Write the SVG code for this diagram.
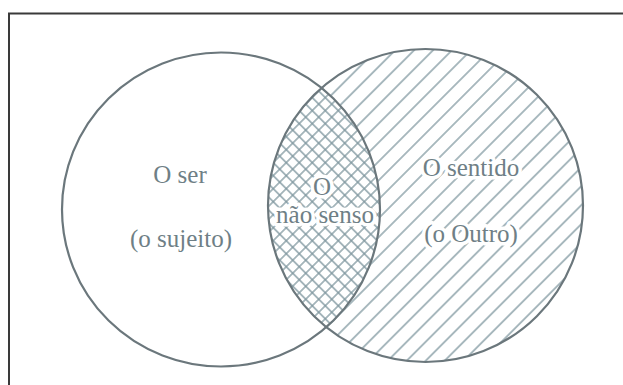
<svg xmlns="http://www.w3.org/2000/svg" width="623" height="385" viewBox="0 0 623 385">
<style>
.outline{fill:none;stroke:#6b777c;stroke-width:2.2}
.lbl{font-family:"Liberation Serif",serif;font-size:25px;fill:#6f7f86;text-anchor:middle;stroke:#fff;stroke-width:7;stroke-linejoin:round;paint-order:stroke}
.hl{stroke:#7d959d;stroke-width:1.3}
</style>
<defs>
<pattern id="hatch" patternUnits="userSpaceOnUse" width="13.4" height="13.4" patternTransform="rotate(45)">
<line class="hl" x1="6.7" y1="-1" x2="6.7" y2="14.4"/>
</pattern>
<pattern id="cross" patternUnits="userSpaceOnUse" width="9.2" height="9.2" patternTransform="rotate(45)">
<line class="hl" x1="4.6" y1="-1" x2="4.6" y2="10.2"/>
<line class="hl" x1="-1" y1="4.6" x2="10.2" y2="4.6"/>
</pattern>
<clipPath id="clipRight"><ellipse cx="425.5" cy="205.5" rx="157.5" ry="156.5"/></clipPath>
</defs>
<rect width="623" height="385" fill="#fff"/>
<path d="M9,386 V13.5 H624" fill="none" stroke="#3a3a3a" stroke-width="2"/>
<g id="right-circle">
<ellipse cx="425.5" cy="205.5" rx="157.5" ry="156.5" fill="url(#hatch)"/>
</g>
<g id="intersection" clip-path="url(#clipRight)">
<ellipse cx="221" cy="209.5" rx="159" ry="157" fill="#fff"/>
<ellipse cx="221" cy="209.5" rx="159" ry="157" fill="url(#cross)"/>
</g>
<g id="outlines">
<ellipse class="outline" cx="221" cy="209.5" rx="159" ry="157"/>
<ellipse class="outline" cx="425.5" cy="205.5" rx="157.5" ry="156.5"/>
</g>
<g id="node-ser">
<text class="lbl" x="180" y="183">O ser</text>
<text class="lbl" x="181" y="247">(o sujeito)</text>
</g>
<g id="node-naosenso">
<text class="lbl" x="322" y="195">O</text>
<text class="lbl" x="325" y="223">não senso</text>
</g>
<g id="node-sentido">
<text class="lbl" x="471" y="176">O sentido</text>
<text class="lbl" x="471" y="242">(o Outro)</text>
</g>
<g id="connectors"/>
</svg>
